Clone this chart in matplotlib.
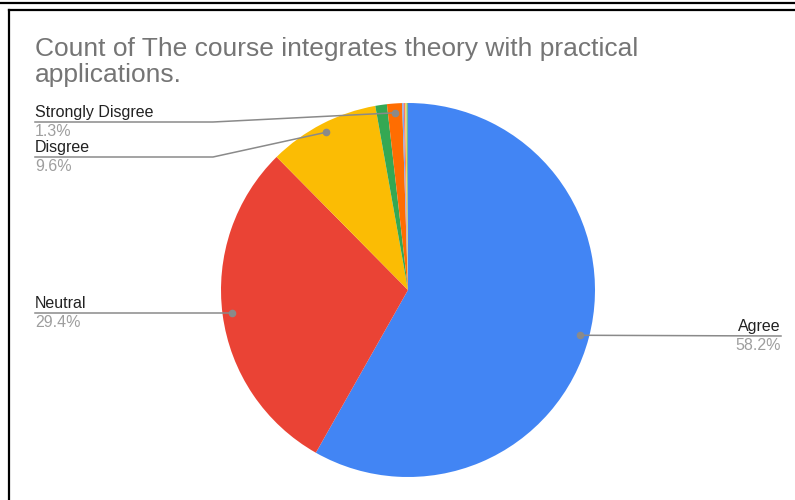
import numpy as np
import matplotlib
matplotlib.use("Agg")
import matplotlib.pyplot as plt
from matplotlib.lines import Line2D

plt.rcParams['font.family'] = ['Liberation Sans', 'DejaVu Sans']

# slice values (percent), clockwise from 12 o'clock
categories = ["Agree", "Neutral", "Disgree", "Strongly Agree", "Strongly Disgree",
              "Other A", "Other B", "Other C", "Other D"]
shares = [58.2, 29.4, 9.6, 1.0, 1.3, 0.125, 0.125, 0.125, 0.125]
colors = ["#4285F4", "#EA4335", "#FBBC04", "#34A853", "#FF6D01",
          "#7BAAF7", "#F07B72", "#FCD04F", "#71C287"]
labelled = ["Agree", "Neutral", "Disgree", "Strongly Disgree"]
pct_text = {"Agree": "58.2%", "Neutral": "29.4%", "Disgree": "9.6%", "Strongly Disgree": "1.3%"}

W, H = 795, 500
fig = plt.figure(figsize=(W / 100, H / 100), dpi=100)


def px(x, y):
    # pixel position (from top-left) -> figure fraction
    return x / W, 1 - y / H


# pie geometry in pixels
cx, cy, r = 408, 290, 187
ax = fig.add_axes([(cx - r) / W, (H - cy - r) / H, 2 * r / W, 2 * r / H])
wedges, _ = ax.pie(shares, colors=colors, startangle=90, counterclock=False,
                   radius=1, wedgeprops=dict(linewidth=0))
ax.set_xlim(-1, 1)
ax.set_ylim(-1, 1)
ax.set_aspect('equal')
ax.axis('off')

# frame lines from the screenshot
fig.add_artist(Line2D([0, 1], [1 - 2.5 / H] * 2, transform=fig.transFigure, color='black', lw=1.6))
fig.add_artist(Line2D([9 / W, 1], [1 - 10 / H] * 2, transform=fig.transFigure, color='black', lw=1.6))
fig.add_artist(Line2D([9 / W, 9 / W], [0, 1 - 10 / H], transform=fig.transFigure, color='black', lw=1.6))

fig.text(*px(35, 37), "Count of The course integrates theory with practical\napplications.",
         fontsize=19, color='#757575', va='top', ha='left', linespacing=1.08)

# label layout: (text x, underline y, elbow x, align)
layout = {
    "Strongly Disgree": (35, 122, 213, 'left'),
    "Disgree": (35, 157, 213, 'left'),
    "Neutral": (35, 313, None, 'left'),
    "Agree": (781, 336, None, 'right'),
}

line_col = '#8a8a8a'
for w, name in zip(wedges, categories):
    if name not in labelled:
        continue
    mid = np.deg2rad((w.theta1 + w.theta2) / 2)
    dx = cx + 0.95 * r * np.cos(mid)
    dy = cy - 0.95 * r * np.sin(mid)
    tx, ly, ex, ha = layout[name]
    if ha == 'left':
        xs = [tx, ex if ex else dx, dx]
        ys = [ly, ly, dy if ex else ly]
    else:
        xs = [dx, tx]
        ys = [dy, ly]
    pts = [px(a, b) for a, b in zip(xs, ys)]
    fig.add_artist(Line2D([p[0] for p in pts], [p[1] for p in pts],
                          transform=fig.transFigure, color=line_col, lw=1.1))
    fig.add_artist(Line2D([px(dx, dy)[0]], [px(dx, dy)[1]], transform=fig.transFigure,
                          marker='o', markersize=4.5, color=line_col, lw=0))
    fig.text(*px(tx, ly - 2), name, fontsize=11.5, color='#222222', ha=ha, va='bottom')
    fig.text(*px(tx, ly + 2), pct_text[name], fontsize=11.5, color='#9e9e9e', ha=ha, va='top')

fig.savefig("out.png", dpi=100, facecolor='white')
